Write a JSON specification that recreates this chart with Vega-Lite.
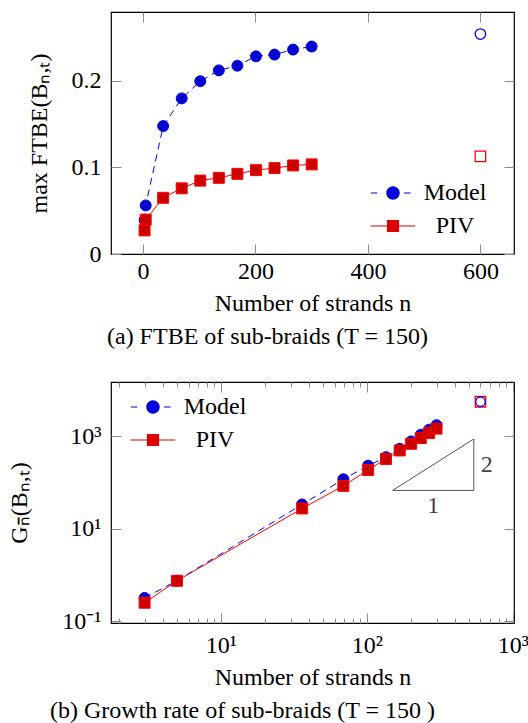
{
  "$schema": "https://vega.github.io/schema/vega-lite/v6.json",
  "background": "white",
  "padding": {"left": 7, "top": 10, "right": 5, "bottom": 2},
  "config": {
    "view": {"stroke": "black", "strokeWidth": 1.2},
    "font": "Liberation Serif",
    "axis": {"domain": false, "grid": false, "tickColor": "#8c8c8c", "tickWidth": 1, "tickSize": -10,
      "labelFont": "Liberation Serif", "labelFontSize": 24, "labelColor": "black", "labelPadding": 18,
      "titleFont": "Liberation Serif", "titleFontSize": 24, "titleFontWeight": "normal", "titleColor": "black"},
    "title": {"font": "Liberation Serif", "fontSize": 24, "fontWeight": "normal", "color": "black"},
    "legend": {"labelFont": "Liberation Serif", "labelFontSize": 24, "labelColor": "black", "padding": 0}
  },
  "datasets": {
    "main": [
      {"n": 3, "series": "Model", "ftbe": 0.039, "growth": 0.318},
      {"n": 5, "series": "Model", "ftbe": 0.056, "growth": 0.75},
      {"n": 36, "series": "Model", "ftbe": 0.1475, "growth": 33.4},
      {"n": 69, "series": "Model", "ftbe": 0.1794, "growth": 117},
      {"n": 102, "series": "Model", "ftbe": 0.1992, "growth": 230},
      {"n": 135, "series": "Model", "ftbe": 0.2117, "growth": 350},
      {"n": 168, "series": "Model", "ftbe": 0.2171, "growth": 531},
      {"n": 201, "series": "Model", "ftbe": 0.2279, "growth": 769},
      {"n": 234, "series": "Model", "ftbe": 0.2299, "growth": 1072},
      {"n": 267, "series": "Model", "ftbe": 0.2357, "growth": 1380},
      {"n": 300, "series": "Model", "ftbe": 0.2392, "growth": 1722},
      {"n": 3, "series": "PIV", "ftbe": 0.0272, "growth": 0.25},
      {"n": 5, "series": "PIV", "ftbe": 0.0396, "growth": 0.746},
      {"n": 36, "series": "PIV", "ftbe": 0.0648, "growth": 27.3},
      {"n": 69, "series": "PIV", "ftbe": 0.0757, "growth": 84},
      {"n": 102, "series": "PIV", "ftbe": 0.0846, "growth": 185},
      {"n": 135, "series": "PIV", "ftbe": 0.0878, "growth": 321},
      {"n": 168, "series": "PIV", "ftbe": 0.0924, "growth": 490},
      {"n": 201, "series": "PIV", "ftbe": 0.0967, "growth": 682},
      {"n": 234, "series": "PIV", "ftbe": 0.099, "growth": 908},
      {"n": 267, "series": "PIV", "ftbe": 0.1021, "growth": 1169},
      {"n": 300, "series": "PIV", "ftbe": 0.1033, "growth": 1452}
    ],
    "large": [
      {"n": 600, "series": "PIV", "ftbe": 0.1126, "growth": 5540},
      {"n": 600, "series": "Model", "ftbe": 0.2536, "growth": 5540}
    ],
    "slope": [
      {"k": 1, "tx": 150, "ty": 67},
      {"k": 2, "tx": 540, "ty": 67},
      {"k": 3, "tx": 540, "ty": 868},
      {"k": 4, "tx": 150, "ty": 67}
    ],
    "slopeText": [
      {"tx": 285, "ty": 67, "label": "1", "side": "run"},
      {"tx": 540, "ty": 241, "label": "2", "side": "rise"}
    ]
  },
  "resolve": {
    "scale": {"shape": "independent", "fill": "independent"},
    "legend": {"shape": "independent", "fill": "independent"}
  },
  "spacing": 128,
  "bounds": "flush",
  "vconcat": [
    {
      "width": 403,
      "height": 242,
      "title": {"text": "(a) FTBE of sub-braids (T = 150)", "orient": "bottom", "anchor": "middle", "dx": -45, "offset": 10},
      "resolve": {"axis": {"x": "independent", "y": "independent"}},
      "layer": [
        {
          "data": {"name": "main"},
          "transform": [{"filter": "datum.series === 'Model'"}],
          "mark": {"type": "line", "color": "#0000ff", "strokeWidth": 1, "strokeDash": [7, 5]},
          "encoding": {
            "x": {"field": "n", "type": "quantitative", "scale": {"domain": [-56.7, 659.7], "nice": false, "zero": false},
              "axis": {"orient": "bottom", "values": [0, 200, 400, 600], "title": "Number of strands n", "labelPadding": 15, "titlePadding": 8}},
            "y": {"field": "ftbe", "type": "quantitative", "scale": {"domain": [0, 0.279], "nice": false},
              "axis": {"orient": "left", "values": [0, 0.1, 0.2], "format": ".1~f", "title": "max  FTBE(Bₙ,ₜ)", "labelPadding": 20, "titlePadding": 20}}
          }
        },
        {
          "data": {"name": "main"},
          "transform": [{"filter": "datum.series === 'PIV'"}],
          "mark": {"type": "line", "color": "#ff0000", "strokeWidth": 1},
          "encoding": {
            "x": {"field": "n", "type": "quantitative", "axis": {"orient": "top", "values": [0, 200, 400, 600], "labels": false, "title": null}},
            "y": {"field": "ftbe", "type": "quantitative", "axis": {"orient": "right", "values": [0, 0.1, 0.2], "labels": false, "title": null}}
          }
        },
        {
          "data": {"name": "main"},
          "transform": [{"filter": "datum.series === 'Model'"}],
          "mark": {"type": "point", "shape": "circle", "filled": true, "fill": "#0000cc", "stroke": "#0000ff", "opacity": 1, "strokeWidth": 1, "size": 120},
          "encoding": {
            "x": {"field": "n", "type": "quantitative", "axis": null},
            "y": {"field": "ftbe", "type": "quantitative", "axis": null}
          }
        },
        {
          "data": {"name": "main"},
          "transform": [{"filter": "datum.series === 'PIV'"}],
          "mark": {"type": "point", "shape": "square", "filled": true, "fill": "#cc0000", "stroke": "#ff0000", "opacity": 1, "strokeWidth": 1, "size": 120},
          "encoding": {
            "x": {"field": "n", "type": "quantitative", "axis": null},
            "y": {"field": "ftbe", "type": "quantitative", "axis": null}
          }
        },
        {
          "data": {"name": "large"},
          "transform": [{"filter": "datum.series === 'PIV'"}],
          "mark": {"type": "point", "shape": "square", "filled": false, "fill": "white", "stroke": "#ff0000", "opacity": 1, "strokeWidth": 1.3, "size": 110},
          "encoding": {
            "x": {"field": "n", "type": "quantitative", "axis": null},
            "y": {"field": "ftbe", "type": "quantitative", "axis": null}
          }
        },
        {
          "data": {"name": "large"},
          "transform": [{"filter": "datum.series === 'Model'"}],
          "mark": {"type": "point", "shape": "circle", "filled": false, "fill": "white", "stroke": "#0000ff", "opacity": 1, "strokeWidth": 1.3, "size": 110},
          "encoding": {
            "x": {"field": "n", "type": "quantitative", "axis": null},
            "y": {"field": "ftbe", "type": "quantitative", "axis": null}
          }
        },
        {
          "data": {"name": "main"},
          "mark": {"type": "point", "filled": true, "opacity": 0},
          "encoding": {
            "x": {"field": "n", "type": "quantitative", "axis": null},
            "y": {"field": "ftbe", "type": "quantitative", "axis": null},
            "shape": {"field": "series", "type": "nominal", "scale": {"domain": ["Model", "PIV"], "range": ["M-1.05,-0.024L-0.75,-0.024L-0.75,0.024L-1.05,0.024ZM0.52,-0.024L0.84,-0.024L0.84,0.024L0.52,0.024ZM0.32,0A0.32,0.32,0,1,1,-0.32,0A0.32,0.32,0,1,1,0.32,0Z", "M-1.07,-0.024L1.06,-0.024L1.06,0.024L-1.07,0.024ZM-0.29,-0.29L0.29,-0.29L0.29,0.29L-0.29,0.29Z"]},
              "legend": {"title": null, "orient": "none", "legendX": 261, "legendY": 160, "symbolSize": 1764, "symbolStrokeWidth": 0, "symbolStrokeColor": "transparent", "symbolOpacity": 1, "labelAlign": "center", "labelOffset": 41, "rowPadding": -3.5}},
            "fill": {"field": "series", "type": "nominal", "scale": {"domain": ["Model", "PIV"], "range": ["#0000dd", "#dd0000"]},
              "legend": {"title": null, "orient": "none", "legendX": 261, "legendY": 160, "symbolSize": 1764, "symbolStrokeWidth": 0, "symbolStrokeColor": "transparent", "symbolOpacity": 1, "labelAlign": "center", "labelOffset": 41, "rowPadding": -3.5}}
          }
        }
      ]
    },
    {
      "width": 403,
      "height": 241,
      "title": {"text": "(b) Growth rate of sub-braids (T = 150 )", "orient": "bottom", "anchor": "middle", "dx": -70, "offset": 10},
      "resolve": {"axis": {"x": "independent", "y": "independent"}},
      "layer": [
        {
          "data": {"name": "main"},
          "transform": [{"filter": "datum.series === 'Model'"}],
          "mark": {"type": "line", "color": "#0000ff", "strokeWidth": 1, "strokeDash": [7, 5]},
          "encoding": {
            "x": {"field": "n", "type": "quantitative", "scale": {"type": "log", "domain": [1.766, 1018], "nice": false},
              "axis": {"orient": "bottom", "values": [10, 100, 1000], "labelExpr": "datum.value < 50 ? '10¹' : datum.value < 500 ? '10²' : '10³'", "title": "Number of strands n", "labelPadding": 20, "titlePadding": 8}},
            "y": {"field": "growth", "type": "quantitative", "scale": {"type": "log", "domain": [0.0912, 14800], "nice": false},
              "axis": {"orient": "left", "values": [0.1, 10, 1000], "labelExpr": "datum.value < 1 ? '10⁻¹' : datum.value < 100 ? '10¹' : '10³'", "title": "Gₙ̄(Bₙ,ₜ)", "labelPadding": 20, "titlePadding": 30}}
          }
        },
        {
          "data": {"name": "main"},
          "transform": [{"filter": "datum.series === 'PIV'"}],
          "mark": {"type": "line", "color": "#ff0000", "strokeWidth": 1},
          "encoding": {
            "x": {"field": "n", "type": "quantitative", "axis": {"orient": "top", "values": [10, 100, 1000], "labels": false, "title": null}},
            "y": {"field": "growth", "type": "quantitative", "axis": {"orient": "right", "values": [0.1, 10, 1000], "labels": false, "title": null}}
          }
        },
        {
          "data": {"name": "main"},
          "transform": [{"filter": "datum.series === 'Model'"}],
          "mark": {"type": "point", "shape": "circle", "filled": true, "fill": "#0000cc", "stroke": "#0000ff", "opacity": 1, "strokeWidth": 1, "size": 120},
          "encoding": {
            "x": {"field": "n", "type": "quantitative", "axis": {"orient": "bottom", "values": [2, 3, 4, 5, 6, 7, 8, 9, 20, 30, 40, 50, 60, 70, 80, 90, 200, 300, 400, 500, 600, 700, 800, 900], "labels": false, "tickSize": -5, "title": null}},
            "y": {"field": "growth", "type": "quantitative", "axis": null}
          }
        },
        {
          "data": {"name": "main"},
          "transform": [{"filter": "datum.series === 'PIV'"}],
          "mark": {"type": "point", "shape": "square", "filled": true, "fill": "#cc0000", "stroke": "#ff0000", "opacity": 1, "strokeWidth": 1, "size": 120},
          "encoding": {
            "x": {"field": "n", "type": "quantitative", "axis": {"orient": "top", "values": [2, 3, 4, 5, 6, 7, 8, 9, 20, 30, 40, 50, 60, 70, 80, 90, 200, 300, 400, 500, 600, 700, 800, 900], "labels": false, "tickSize": -5, "title": null}},
            "y": {"field": "growth", "type": "quantitative", "axis": null}
          }
        },
        {
          "data": {"name": "slope"},
          "mark": {"type": "line", "color": "#555555", "strokeWidth": 1},
          "encoding": {
            "x": {"field": "tx", "type": "quantitative", "axis": null},
            "y": {"field": "ty", "type": "quantitative", "axis": null},
            "order": {"field": "k", "type": "quantitative"}
          }
        },
        {
          "data": {"name": "large"},
          "transform": [{"filter": "datum.series === 'PIV'"}],
          "mark": {"type": "point", "shape": "square", "filled": false, "fill": "white", "stroke": "#ff0000", "opacity": 1, "strokeWidth": 1.3, "size": 110},
          "encoding": {
            "x": {"field": "n", "type": "quantitative", "axis": null},
            "y": {"field": "growth", "type": "quantitative", "axis": null}
          }
        },
        {
          "data": {"name": "large"},
          "transform": [{"filter": "datum.series === 'Model'"}],
          "mark": {"type": "point", "shape": "circle", "filled": false, "fill": "white", "stroke": "#0000ff", "opacity": 1, "strokeWidth": 1.3, "size": 90},
          "encoding": {
            "x": {"field": "n", "type": "quantitative", "axis": null},
            "y": {"field": "growth", "type": "quantitative", "axis": null}
          }
        },
        {
          "data": {"name": "slopeText"},
          "transform": [{"filter": "datum.side === 'run'"}],
          "mark": {"type": "text", "font": "Liberation Serif", "fontSize": 24, "color": "#444444", "dy": 16, "baseline": "middle", "align": "center"},
          "encoding": {
            "x": {"field": "tx", "type": "quantitative", "axis": null},
            "y": {"field": "ty", "type": "quantitative", "axis": null},
            "text": {"field": "label"}
          }
        },
        {
          "data": {"name": "slopeText"},
          "transform": [{"filter": "datum.side === 'rise'"}],
          "mark": {"type": "text", "font": "Liberation Serif", "fontSize": 24, "color": "#444444", "dx": 13, "baseline": "middle", "align": "center"},
          "encoding": {
            "x": {"field": "tx", "type": "quantitative", "axis": null},
            "y": {"field": "ty", "type": "quantitative", "axis": null},
            "text": {"field": "label"}
          }
        },
        {
          "data": {"name": "main"},
          "mark": {"type": "point", "filled": true, "opacity": 0},
          "encoding": {
            "x": {"field": "n", "type": "quantitative", "axis": null},
            "y": {"field": "growth", "type": "quantitative", "axis": null},
            "shape": {"field": "series", "type": "nominal", "scale": {"domain": ["Model", "PIV"], "range": ["M-1.05,-0.024L-0.75,-0.024L-0.75,0.024L-1.05,0.024ZM0.52,-0.024L0.84,-0.024L0.84,0.024L0.52,0.024ZM0.32,0A0.32,0.32,0,1,1,-0.32,0A0.32,0.32,0,1,1,0.32,0Z", "M-1.07,-0.024L1.06,-0.024L1.06,0.024L-1.07,0.024ZM-0.29,-0.29L0.29,-0.29L0.29,0.29L-0.29,0.29Z"]},
              "legend": {"title": null, "orient": "none", "legendX": 21, "legendY": 4, "symbolSize": 1764, "symbolStrokeWidth": 0, "symbolStrokeColor": "transparent", "symbolOpacity": 1, "labelAlign": "center", "labelOffset": 41, "rowPadding": -4}},
            "fill": {"field": "series", "type": "nominal", "scale": {"domain": ["Model", "PIV"], "range": ["#0000dd", "#dd0000"]},
              "legend": {"title": null, "orient": "none", "legendX": 21, "legendY": 4, "symbolSize": 1764, "symbolStrokeWidth": 0, "symbolStrokeColor": "transparent", "symbolOpacity": 1, "labelAlign": "center", "labelOffset": 41, "rowPadding": -4}}
          }
        }
      ]
    }
  ]
}
